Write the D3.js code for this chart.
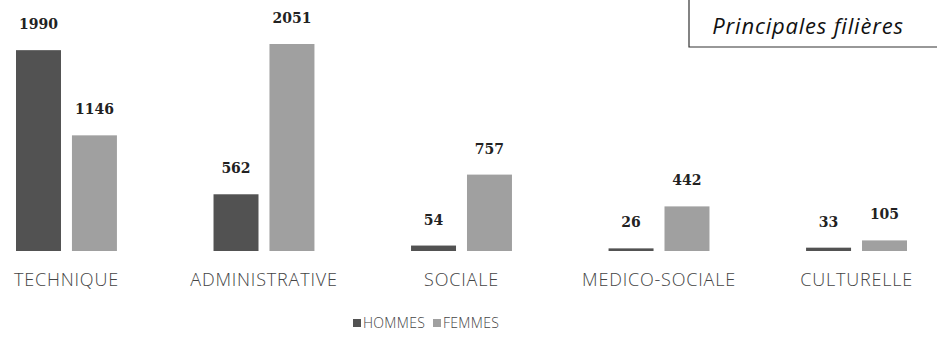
<!DOCTYPE html>
<html>
<head>
<meta charset="utf-8">
<script src="https://cdn.jsdelivr.net/npm/d3@7"></script>
<style>
  body { margin: 0; background: #fff; }
  svg { display: block; }
  .value { font-family: "DejaVu Serif", serif; font-weight: bold; font-size: 14px; fill: #222; }
  .cat { font-family: "Open Sans", sans-serif; font-weight: 300; font-size: 18px; fill: #444; letter-spacing: 0.8px; }
  .legend text { font-family: "Open Sans", sans-serif; font-weight: 300; font-size: 14px; fill: #444; letter-spacing: 0.3px; }
  .title { font-family: "Open Sans", sans-serif; font-style: italic; font-size: 22px; fill: #111; letter-spacing: 0.8px; }
</style>
</head>
<body>
<svg id="chart" width="937" height="342" viewBox="0 0 937 342"></svg>
<script>
// --- data -----------------------------
const categories = ["TECHNIQUE", "ADMINISTRATIVE", "SOCIALE", "MEDICO-SOCIALE", "CULTURELLE"];
const seriesNames = ["HOMMES", "FEMMES"];
const hommes = [1990, 562, 54, 26, 33];
const femmes = [1146, 2051, 757, 442, 105];
const titleText = "Principales filières";

const colors = {HOMMES: "#525252", FEMMES: "#a0a0a0"};

const rows = categories.map((c, i) => ({
  cat: c,
  values: [{key: "HOMMES", v: hommes[i]}, {key: "FEMMES", v: femmes[i]}]
}));

const svg = d3.select("#chart");

// --- scales ---------------------------
const x = d3.scaleBand()
  .domain(categories)
  .range([16, 907])
  .paddingInner(0.489)
  .paddingOuter(0);

const xInner = d3.scaleBand()
  .domain(seriesNames)
  .range([0, x.bandwidth()])
  .paddingInner(0.196)
  .paddingOuter(0);

const baseline = 251;
const y = d3.scaleLinear()
  .domain([0, 2051])
  .range([baseline, 44]);

// --- bars -----------------------------
const groups = svg.append("g")
  .selectAll("g")
  .data(rows)
  .join("g")
  .attr("transform", d => "translate(" + x(d.cat) + ",0)");

groups.selectAll("rect")
  .data(d => d.values)
  .join("rect")
  .attr("x", d => xInner(d.key))
  .attr("y", d => y(d.v))
  .attr("width", xInner.bandwidth())
  .attr("height", d => baseline - y(d.v))
  .attr("fill", d => colors[d.key]);

// value labels above the bars
groups.selectAll("text.value")
  .data(d => d.values)
  .join("text")
  .attr("class", "value")
  .attr("x", d => xInner(d.key) + xInner.bandwidth() / 2)
  .attr("y", d => y(d.v) - 21)
  .attr("text-anchor", "middle")
  .text(d => d.v);

// category labels
groups.append("text")
  .attr("class", "cat")
  .attr("x", x.bandwidth() / 2)
  .attr("y", 286)
  .attr("text-anchor", "middle")
  .text(d => d.cat);

// --- legend ---------------------------
const legend = svg.append("g").attr("class", "legend");
const legendX = [353, 433];
seriesNames.forEach((s, i) => {
  const g = legend.append("g").attr("transform", "translate(" + legendX[i] + ",323)");
  g.append("rect")
    .attr("x", 0).attr("y", -4)
    .attr("width", 8).attr("height", 8)
    .attr("fill", colors[s]);
  g.append("text")
    .attr("x", 10).attr("y", 5)
    .text(s);
});

// --- title box ------------------------
const box = svg.append("g");
box.append("path")
  .attr("d", "M689,0 V47 H937")
  .attr("fill", "none")
  .attr("stroke", "#333")
  .attr("stroke-width", 1.2);
box.append("text")
  .attr("class", "title")
  .attr("x", 808)
  .attr("y", 34)
  .attr("text-anchor", "middle")
  .text(titleText);
</script>
</body>
</html>
